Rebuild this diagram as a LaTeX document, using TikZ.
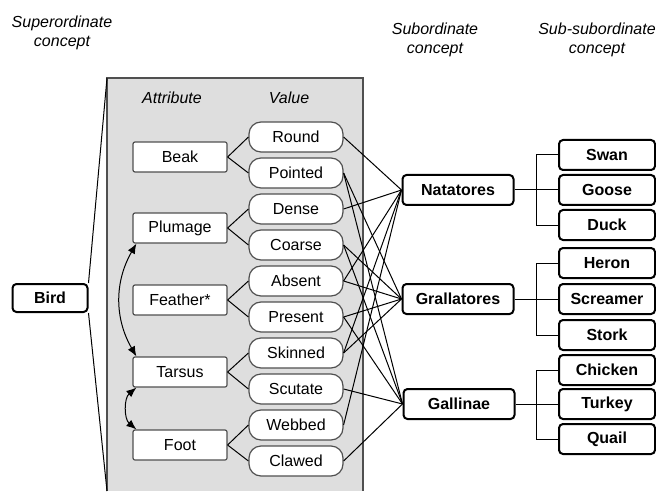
\documentclass[tikz,border=0pt]{standalone}
\usepackage{fontspec}
\setmainfont{Liberation Sans}
\usetikzlibrary{arrows.meta}
\definecolor{boxgray}{HTML}{DEDEDE}
\definecolor{edgegray}{HTML}{505050}

\begin{document}
\begin{tikzpicture}[x=0.5pt, y=-0.5pt,
  every node/.style={font=\fontsize{8}{9.6}\selectfont},
  attr/.style={draw=edgegray, fill=white, line width=0.6pt, rounded corners=1pt,
    minimum width=47pt, minimum height=15pt, inner sep=1pt},
  val/.style={attr, rounded corners=6pt},
  taxon/.style={draw=black, fill=white, line width=1pt, rounded corners=2pt,
    minimum height=15pt, inner sep=1pt, font=\fontsize{8}{9.6}\selectfont\bfseries},
  head/.style={font=\fontsize{8}{9.6}\selectfont\itshape, align=center},
  link/.style={line width=0.5pt}]

  \useasboundingbox (0,0) rectangle (656,491);

  % ---- Column headings ----
  \node[head] (suphead) at (62,33) {Superordinate\\concept};
  \node[head] (subhead) at (435,40) {Subordinate\\concept};
  \node[head] (subsubhead) at (597,40) {Sub-subordinate\\concept};

  % ---- Attribute panel ----
  \fill[boxgray] (107,78) rectangle (363,491);
  \draw[edgegray, line width=0.8pt] (107,491) -- (107,78) -- (363,78) -- (363,491);
  \node[head] (attrhead) at (172,98) {Attribute};
  \node[head] (valhead) at (289,98) {Value};

  % ---- Bird ----
  \node[taxon, minimum width=37.5pt, minimum height=14pt] (bird) at (50,298) {Bird};
  \draw[link] (bird.north east) -- (107,78);
  \draw[link] (bird.south east) -- (107,491);

  % ---- Attributes ----
  \node[attr] (beak) at (180,157) {Beak};
  \node[attr] (plumage) at (180,228) {Plumage};
  \node[attr] (feather) at (180,300) {Feather*};
  \node[attr] (tarsus) at (180,372) {Tarsus};
  \node[attr] (foot) at (180,445) {Foot};

  % ---- Values ----
  \node[val] (round) at (296,137) {Round};
  \node[val] (pointed) at (296,173) {Pointed};
  \node[val] (dense) at (296,209) {Dense};
  \node[val] (coarse) at (296,245) {Coarse};
  \node[val] (absent) at (296,281) {Absent};
  \node[val] (present) at (296,317) {Present};
  \node[val] (skinned) at (296,353) {Skinned};
  \node[val] (scutate) at (296,389) {Scutate};
  \node[val] (webbed) at (296,425) {Webbed};
  \node[val] (clawed) at (296,461) {Clawed};

  \foreach \a/\v in {beak/round, beak/pointed, plumage/dense, plumage/coarse,
      feather/absent, feather/present, tarsus/skinned, tarsus/scutate,
      foot/webbed, foot/clawed}
    \draw[link] (\a.east) -- (\v.west);

  % linked attributes
  \draw[link, {Latex[length=5pt,width=4pt]}-{Latex[length=5pt,width=4pt]}]
    ([xshift=2pt]plumage.south west) to[bend right=30] ([xshift=2pt]tarsus.north west);
  \draw[link, {Latex[length=5pt,width=4pt]}-{Latex[length=5pt,width=4pt]}]
    ([xshift=2pt]tarsus.south west) to[bend right=50] ([xshift=2pt]foot.north west);

  % ---- Subordinate concepts ----
  \node[taxon, minimum width=55.5pt] (natatores) at (458,190) {Natatores};
  \node[taxon, minimum width=55.5pt] (grallatores) at (458,299) {Grallatores};
  \node[taxon, minimum width=55.5pt] (gallinae) at (459,404) {Gallinae};

  \foreach \v/\s in {round/natatores, dense/natatores, absent/natatores,
      skinned/natatores, webbed/natatores,
      pointed/grallatores, coarse/grallatores, absent/grallatores,
      skinned/grallatores, present/grallatores,
      pointed/gallinae, coarse/gallinae, present/gallinae,
      scutate/gallinae, clawed/gallinae}
    \draw[link] (\v.east) -- (\s.west);

  % ---- Sub-subordinate concepts ----
  \node[taxon, minimum width=48pt] (swan) at (607,155) {Swan};
  \node[taxon, minimum width=48pt] (goose) at (607,190) {Goose};
  \node[taxon, minimum width=48pt] (duck) at (607,225) {Duck};
  \node[taxon, minimum width=48pt] (heron) at (607,263) {Heron};
  \node[taxon, minimum width=48pt] (screamer) at (607,299) {Screamer};
  \node[taxon, minimum width=48pt] (stork) at (607,335) {Stork};
  \node[taxon, minimum width=48pt] (chicken) at (607,370) {Chicken};
  \node[taxon, minimum width=48pt] (turkey) at (607,404) {Turkey};
  \node[taxon, minimum width=48pt] (quail) at (607,439) {Quail};

  \draw[link] (natatores.east) -- (goose.west);
  \draw[link] (swan.west) -- ++(-22,0) |- (duck.west);
  \draw[link] (grallatores.east) -- (screamer.west);
  \draw[link] (heron.west) -- ++(-22,0) |- (stork.west);
  \draw[link] (gallinae.east) -- (turkey.west);
  \draw[link] (chicken.west) -- ++(-22,0) |- (quail.west);

\end{tikzpicture}
\end{document}
